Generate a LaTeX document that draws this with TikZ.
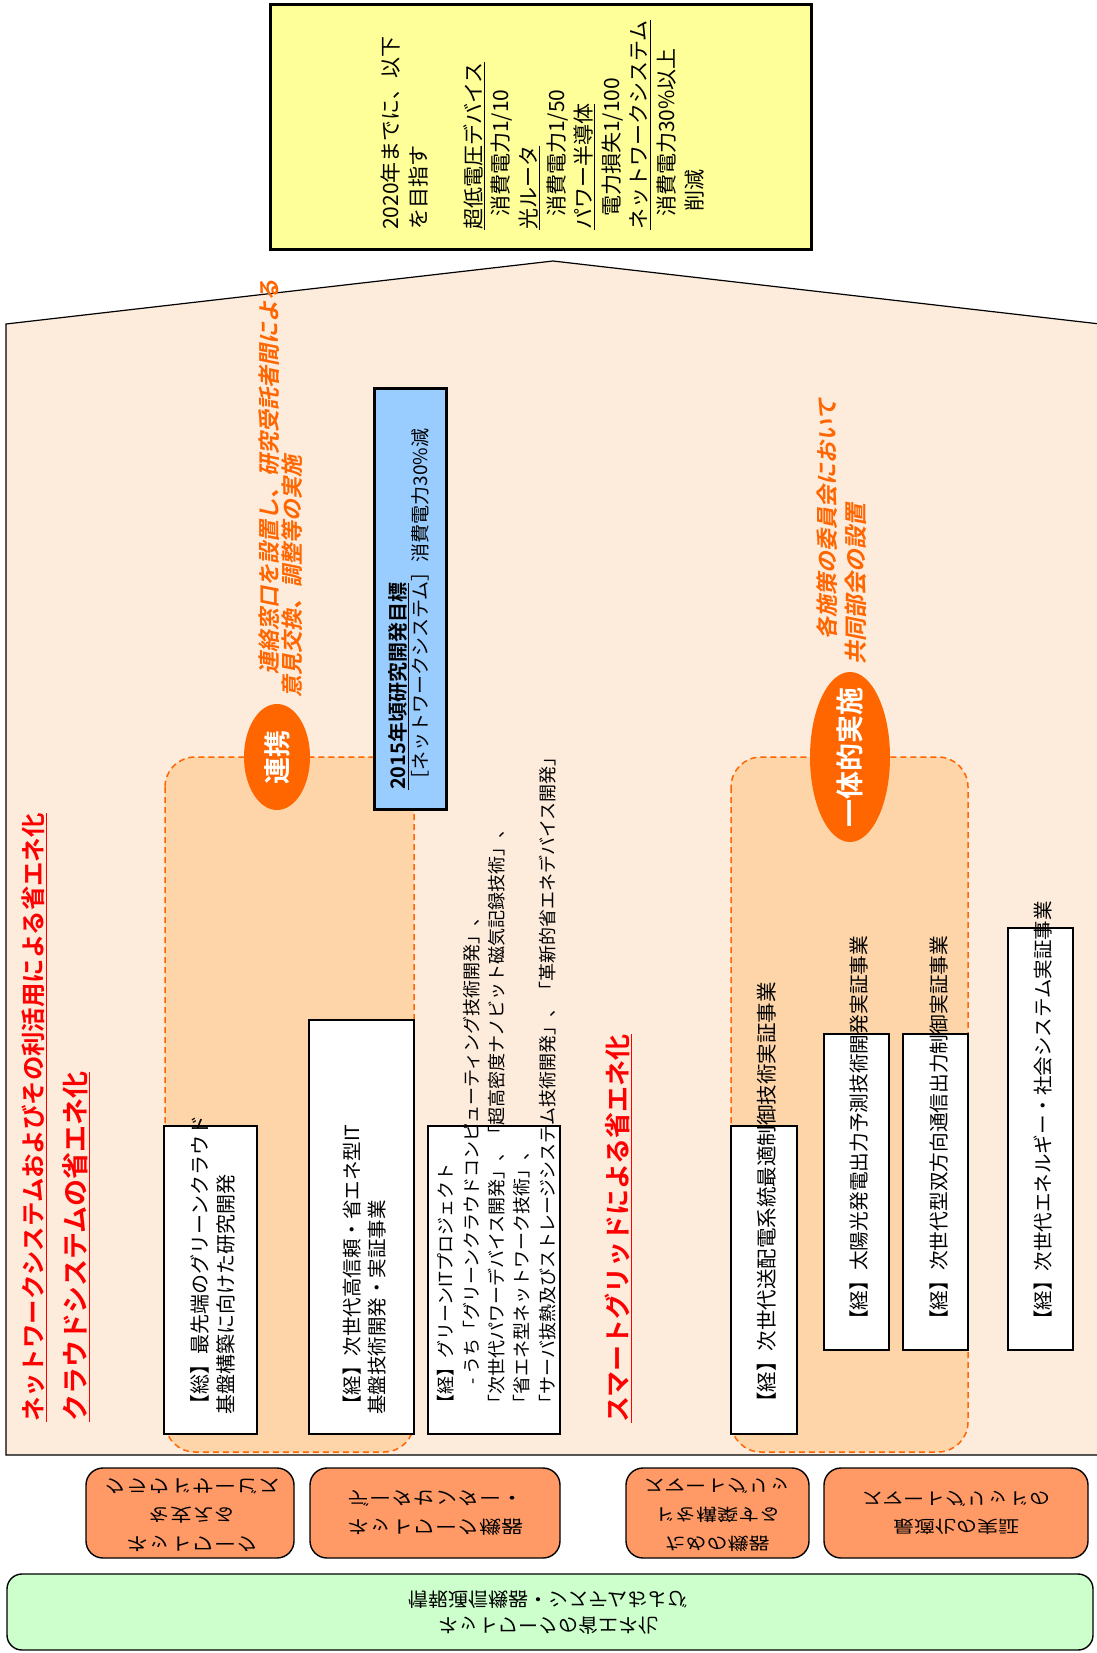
\documentclass[tikz,border=0pt]{standalone}
\usepackage{fontspec}
\setmainfont{Noto Sans CJK JP}[BoldFont={Noto Sans CJK JP Bold}]
\newfontfamily\orsl{Noto Sans CJK JP Bold}[FakeSlant=0.2]
\usetikzlibrary{shapes.geometric}
\definecolor{yel}{HTML}{FFFF99}
\definecolor{house}{HTML}{FDEBDC}
\definecolor{peach}{HTML}{FDD5A9}
\definecolor{ora}{HTML}{FF6600}
\definecolor{bluebox}{HTML}{99CCFF}
\definecolor{obox}{HTML}{FF9966}
\definecolor{gbox}{HTML}{CCFFCC}
\definecolor{redt}{HTML}{FF0000}
\newcommand\fsz[2]{\fontsize{#1pt}{#2pt}\selectfont}
\begin{document}
\begin{tikzpicture}[x=1pt,y=-1pt,
  vt/.style={rotate=90, anchor=base west, inner sep=0pt, align=left},
  wb/.style={draw=black, fill=white, line width=1.4pt},
  grp/.style={fill=peach, draw=ora, dash pattern=on 6pt off 4pt, line width=1.5pt, rounded corners=30pt},
  obx/.style={fill=obox, draw=black, line width=1.4pt, rounded corners=17pt},
  gbx/.style={fill=gbox, draw=black, line width=1.4pt, rounded corners=15pt},
  flip/.style={yscale=-0.8, transform shape, align=center, inner sep=0pt, font=\fsz{22}{36}},
  flipg/.style={yscale=-0.95, transform shape, align=center, inner sep=0pt, font=\fsz{20}{27.5}},
  oval/.style={ellipse, fill=ora, inner sep=0pt},
  ovtxt/.style={rotate=90, text=white, inner sep=0pt},
  redtitle/.style={vt, text=redt},
  ortxt/.style={vt, text=ora, font=\orsl\fsz{22}{22}}
]
\useasboundingbox (0,0) rectangle (1096,1653);

% house
\draw[fill=house, line width=1.2pt] (6,324) -- (553,261) -- (1100,324) -- (1100,1455) -- (6,1455) -- cycle;

% yellow target box (multi-line nodes are anchored at the baseline of their last line)
\draw[fill=yel, line width=3pt] (270,5) rectangle (811,250);
\node[vt, font=\fsz{21}{27.6}] (ytext) at (702,230) {2020年までに、以下\\を目指す\\~\\\underline{超低電圧デバイス}\\\hspace*{13pt}消費電力1/10\\\underline{光ルータ}\\\hspace*{13pt}消費電力1/50\\\underline{パワー半導体}\\\hspace*{13pt}電力損失1/100\\\underline{ネットワークシステム}\\\hspace*{13pt}消費電力30\%以上\\\hspace*{18pt}削減};

% dashed groups
\draw[grp] (165,757) rectangle (414,1452);
\draw[grp] (731,757) rectangle (968,1452);

% white boxes left
\draw[wb] (164,1126) rectangle (257,1434);
\draw[wb] (309,1020) rectangle (414,1434);
\draw[wb] (428,1126) rectangle (560,1434);
% white boxes right
\draw[wb] (731,1126) rectangle (797,1434);
\draw[wb] (824,1034) rectangle (889,1350);
\draw[wb] (903,1034) rectangle (968,1350);
\draw[wb] (1008,928) rectangle (1073,1350);

% blue box
\draw[fill=bluebox, line width=3pt] (374,388) rectangle (446,809);
\node[vt, font=\fsz{19}{22}] (btext) at (427,790) {{\bfseries\fsz{20}{22}\underline{2015年頃研究開発目標}}\\［ネットワークシステム］消費電力30\%減};

% ovals
\node[oval, minimum width=66pt, minimum height=106pt] (el1) at (277,757) {};
\node[ovtxt, font=\bfseries\fsz{27}{27}] (el1t) at (277,757) {連携};
\node[oval, minimum width=80pt, minimum height=170pt] (el2) at (850,757) {};
\node[ovtxt, font=\bfseries\fsz{28}{28}] (el2t) at (850,757) {一体的実施};

% red titles
\node[redtitle, font=\bfseries\fsz{24.4}{24.4}] (t1) at (42,1422) {\underline{ネットワークシステムおよびその利活用による省エネ化}};
\node[redtitle, font=\bfseries\fsz{27}{27}] (t2) at (85,1422) {\underline{クラウドシステムの省エネ化}};
\node[redtitle, font=\bfseries\fsz{26}{26}] (t3) at (627,1423) {\underline{スマートグリッドによる省エネ化}};

% orange notes
\node[ortxt] (o1) at (277,675) {連絡窓口を設置し、研究受託者間による};
\node[ortxt] (o2) at (300,698) {意見交換、調整等の実施};
\node[ortxt] (o3) at (835,640) {各施策の委員会において};
\node[ortxt, font=\orsl\fsz{23}{23}] (o4) at (864,665) {共同部会の設置};

% texts of left boxes
\node[vt, font=\fsz{20}{26}] (ta) at (233,1415) {【総】最先端のグリーンクラウド\\基盤構築に向けた研究開発};
\node[vt, font=\fsz{19.5}{25}] (tb) at (384,1415) {【経】次世代高信頼・省エネ型IT\\基盤技術開発・実証事業};
\node[vt, font=\fsz{18}{25.3}] (tc) at (554,1413) {【経】グリーンITプロジェクト\\\hspace*{28pt}- うち「グリーンクラウドコンピューティング技術開発」、\\「次世代パワーデバイス開発」、「超高密度ナノビット磁気記録技術」、\\「省エネ型ネットワーク技術」、\\「サーバ抜熱及びストレージシステム技術開発」、「革新的省エネデバイス開発」};

% texts of right boxes
\node[vt, font=\fsz{20.5}{20}] (ra) at (774,1413) {【経】次世代送配電系統最適制御技術実証事業};
\node[vt, font=\fsz{19.7}{20}] (rb) at (866,1330) {【経】太陽光発電出力予測技術開発実証事業};
\node[vt, font=\fsz{19.7}{20}] (rc) at (946,1330) {【経】次世代型双方向通信出力制御実証事業};
\node[vt, font=\fsz{19.5}{20}] (rd) at (1050,1330) {【経】次世代エネルギー・社会システム実証事業};

% bottom boxes
\draw[obx] (86,1468) rectangle (294,1558);
\draw[obx] (310,1468) rectangle (560,1558);
\draw[obx] (626,1468) rectangle (809,1558);
\draw[obx] (824,1468) rectangle (1088,1558);
\draw[gbx] (7,1574) rectangle (1093,1650);

\node[flip] (b1) at (192,1515) {ネットワーク\\を支える\\クラウドサービス};
\node[flip] (b2) at (435,1513) {ネットワーク機器\\データセンター・};
\node[flip, font=\fsz{21}{36}] (b3) at (717,1515) {ための機器\\ドを構築する\\スマートグリッ};
\node[flip, font=\fsz{21}{36}] (b4) at (956,1513) {最適化の実証\\スマートグリッドの};
\node[flipg] (g1) at (548,1613) {ネットワークの省エネ化\\情報通信機器・システムおよび};
\end{tikzpicture}
\end{document}
